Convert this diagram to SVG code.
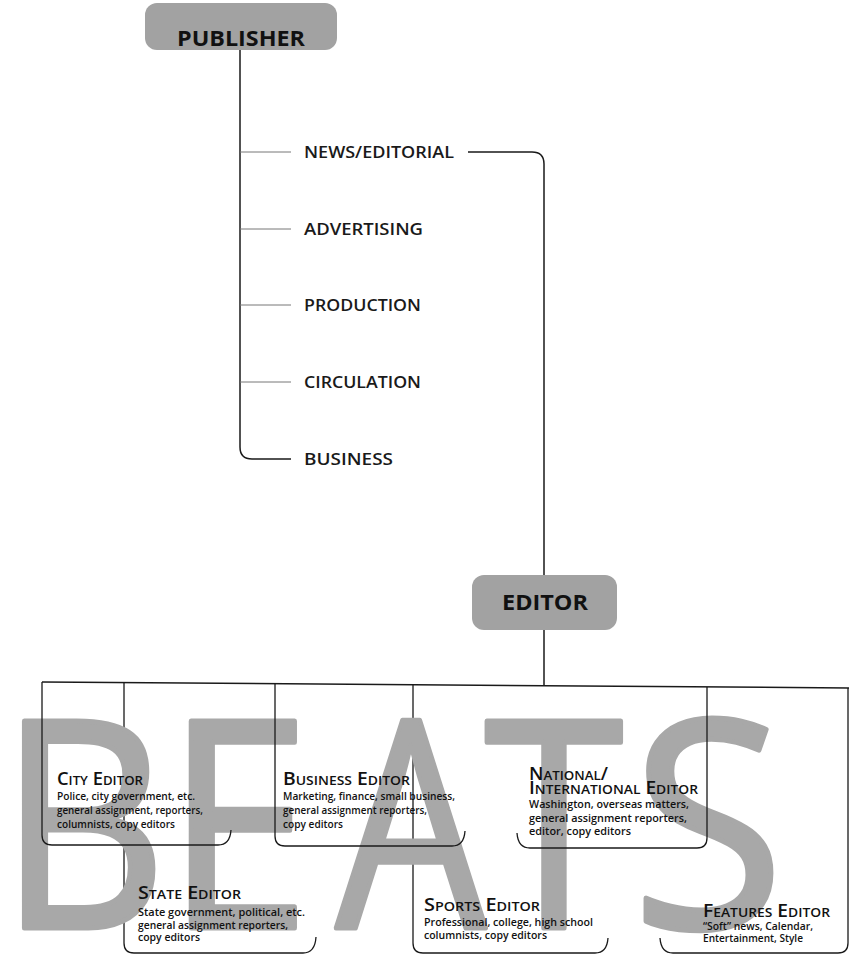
<svg xmlns="http://www.w3.org/2000/svg" width="851" height="956" viewBox="0 0 851 956">
<style>
  .bg { fill: #ffffff; }
  .pill { fill: #a2a2a2; }
  .pilltxt { font-family: "Open Sans", "Noto Sans", "DejaVu Sans", sans-serif; font-weight: 700; font-size: 21px; fill: #111; }
  .dept { font-family: "Open Sans", "Noto Sans", "DejaVu Sans", sans-serif; font-weight: 600; font-size: 17px; fill: #1a1a1a; }
  .trunk { fill: none; stroke: #1a1a1a; stroke-width: 1.5; }
  .branch { fill: none; stroke: #777; stroke-width: 1; }
  .box { fill: none; stroke: #1a1a1a; stroke-width: 1.3; }
  .big { font-family: "Open Sans", "Noto Sans", "DejaVu Sans", sans-serif; font-weight: 400; font-size: 290px; fill: #a8a8a8; stroke: #a8a8a8; stroke-width: 5; stroke-linejoin: round; }
  .title { font-family: "Open Sans", "Noto Sans", "DejaVu Sans", sans-serif; font-weight: 600; font-size: 18px; font-variant: small-caps; fill: #111; }
  .body { font-family: "Open Sans", "Noto Sans", "DejaVu Sans", sans-serif; font-weight: 600; font-size: 11px; fill: #111; }
</style>
<rect class="bg" x="0" y="0" width="851" height="956"/>

<g id="connectors">
  <path class="trunk" d="M240,50 V447 Q240,459 252,459 H291"/>
  <path class="branch" d="M240,152 H291"/>
  <path class="branch" d="M240,229 H291"/>
  <path class="branch" d="M240,305 H291"/>
  <path class="branch" d="M240,382 H291"/>
  <path class="trunk" d="M468,152 H532 Q544,152 544,164 V575"/>
  <path class="trunk" d="M544,630 V686"/>
  <path class="trunk" d="M42,682 L849,688"/>
</g>

<g id="beats-row2-frames">
  <path class="box" d="M124,682.6 V943 Q124,953 134,953 H303 Q315,953 316,937"/>
  <path class="box" d="M413,684.8 V943 Q413,953 423,953 H595 Q607,953 608,938"/>
  <path class="box" d="M848,688 V943 Q848,953 838,953 H673 Q661,953 660,938"/>
</g>

<g id="beats-letters">
  <text class="big" text-anchor="middle" transform="translate(83,928) scale(0.9,1)">B</text>
  <text class="big" text-anchor="middle" transform="translate(238,928) scale(0.9,1)">E</text>
  <text class="big" text-anchor="middle" transform="translate(411,928) scale(0.82,1)">A</text>
  <text class="big" text-anchor="middle" transform="translate(554,928) scale(0.87,1)">T</text>
  <text class="big" text-anchor="middle" transform="translate(708,928) scale(0.96,1)">S</text>
</g>

<g id="beats-row1-frames">
  <path class="box" d="M42,682 V835 Q42,845 52,845 H218 Q230,845 231,830"/>
  <path class="box" d="M275,683.7 V836 Q275,846 285,846 H452 Q464,846 465,831"/>
  <path class="box" d="M707,686.9 V838 Q707,848 697,848 H530 Q518,848 517,833"/>
</g>

<g id="publisher">
  <rect class="pill" x="145" y="3" width="192" height="47" rx="12"/>
  <text class="pilltxt" x="177" y="46" textLength="128" lengthAdjust="spacingAndGlyphs">PUBLISHER</text>
</g>

<g id="news-editorial">
  <text class="dept" x="304" y="158" textLength="150" lengthAdjust="spacingAndGlyphs">NEWS/EDITORIAL</text>
</g>
<g id="advertising">
  <text class="dept" x="304" y="235" textLength="119" lengthAdjust="spacingAndGlyphs">ADVERTISING</text>
</g>
<g id="production">
  <text class="dept" x="304" y="311" textLength="117" lengthAdjust="spacingAndGlyphs">PRODUCTION</text>
</g>
<g id="circulation">
  <text class="dept" x="304" y="388" textLength="117" lengthAdjust="spacingAndGlyphs">CIRCULATION</text>
</g>
<g id="business">
  <text class="dept" x="304" y="465" textLength="89" lengthAdjust="spacingAndGlyphs">BUSINESS</text>
</g>

<g id="editor">
  <rect class="pill" x="472" y="575" width="145" height="55" rx="12"/>
  <text class="pilltxt" x="502" y="610" textLength="86" lengthAdjust="spacingAndGlyphs">EDITOR</text>
</g>

<g id="city-editor">
  <text class="title" x="57" y="785" textLength="86" lengthAdjust="spacingAndGlyphs">City Editor</text>
  <text class="body" x="57" y="800" textLength="138" lengthAdjust="spacingAndGlyphs">Police, city government, etc.</text>
  <text class="body" x="57" y="814" textLength="146" lengthAdjust="spacingAndGlyphs">general assignment, reporters,</text>
  <text class="body" x="57" y="828" textLength="118" lengthAdjust="spacingAndGlyphs">columnists, copy editors</text>
</g>

<g id="business-editor">
  <text class="title" x="283" y="785" textLength="127" lengthAdjust="spacingAndGlyphs">Business Editor</text>
  <text class="body" x="283" y="800" textLength="172" lengthAdjust="spacingAndGlyphs">Marketing, finance, small business,</text>
  <text class="body" x="283" y="814" textLength="144" lengthAdjust="spacingAndGlyphs">general assignment reporters,</text>
  <text class="body" x="283" y="828" textLength="60" lengthAdjust="spacingAndGlyphs">copy editors</text>
</g>

<g id="national-editor">
  <text class="title" x="529" y="780" textLength="79" lengthAdjust="spacingAndGlyphs">National/</text>
  <text class="title" x="529" y="794" textLength="169" lengthAdjust="spacingAndGlyphs">International Editor</text>
  <text class="body" x="529" y="808" textLength="160" lengthAdjust="spacingAndGlyphs">Washington, overseas matters,</text>
  <text class="body" x="529" y="822" textLength="158" lengthAdjust="spacingAndGlyphs">general assignment reporters,</text>
  <text class="body" x="529" y="835" textLength="102" lengthAdjust="spacingAndGlyphs">editor, copy editors</text>
</g>

<g id="state-editor">
  <text class="title" x="138" y="899" textLength="103" lengthAdjust="spacingAndGlyphs">State Editor</text>
  <text class="body" x="138" y="916" textLength="167" lengthAdjust="spacingAndGlyphs">State government, political, etc.</text>
  <text class="body" x="138" y="929" textLength="150" lengthAdjust="spacingAndGlyphs">general assignment reporters,</text>
  <text class="body" x="138" y="941" textLength="62" lengthAdjust="spacingAndGlyphs">copy editors</text>
</g>

<g id="sports-editor">
  <text class="title" x="424" y="911" textLength="116" lengthAdjust="spacingAndGlyphs">Sports Editor</text>
  <text class="body" x="424" y="926" textLength="169" lengthAdjust="spacingAndGlyphs">Professional, college, high school</text>
  <text class="body" x="424" y="939" textLength="123" lengthAdjust="spacingAndGlyphs">columnists, copy editors</text>
</g>

<g id="features-editor">
  <text class="title" x="703" y="917" textLength="127" lengthAdjust="spacingAndGlyphs">Features Editor</text>
  <text class="body" x="703" y="930" textLength="110" lengthAdjust="spacingAndGlyphs">“Soft” news, Calendar,</text>
  <text class="body" x="703" y="942" textLength="100" lengthAdjust="spacingAndGlyphs">Entertainment, Style</text>
</g>
</svg>
